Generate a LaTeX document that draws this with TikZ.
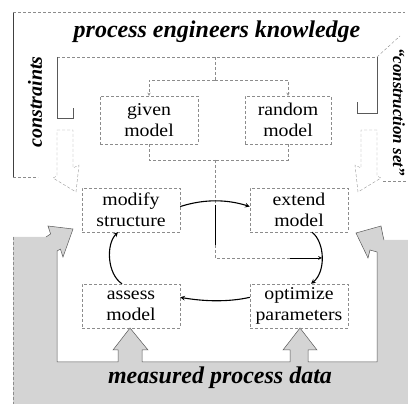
\documentclass[tikz,border=0pt]{standalone}
\usepackage{fontspec}
\setmainfont{Liberation Serif}
\newfontfamily\cajafont[FakeStretch=1.1]{Liberation Serif}

\begin{document}
\begin{tikzpicture}[x=1pt,y=-1pt,>=stealth,
    caja/.style={draw=black!45,densely dashed,line width=0.4pt,
      minimum width=98pt,minimum height=44pt,inner sep=0pt,align=center,
      font=\cajafont\fontsize{18}{21}\selectfont},
    titulo/.style={font=\fontsize{24}{28}\selectfont\bfseries\itshape},
    lateral/.style={font=\fontsize{20}{24}\selectfont\bfseries\itshape},
    tenue/.style={draw=black!45,densely dashed,line width=0.4pt},
    ciclo/.style={->,line width=1.1pt},
    hueco/.style={draw=black!40,densely dashed,line width=0.4pt,fill=white}]

    \useasboundingbox (0,0) rectangle (408,404);

    % Banda gris de datos medidos con sus flechas
    \fill[black!17] (13,237) -- (46,237) -- (50.6,233.9) -- (48,226) -- (73,229)
      -- (63,257) -- (60.4,249.1) -- (57,251) -- (57,362)
      -- (118,362) -- (118,350) -- (113,350) -- (130,328) -- (148,350) -- (142,350) -- (142,362)
      -- (290,362) -- (290,350) -- (283,350) -- (300,328) -- (317,350) -- (308,350) -- (308,362)
      -- (377,362) -- (377,252) -- (370,250) -- (368,258) -- (356,233) -- (381,226)
      -- (383,236) -- (384,240) -- (410,240) -- (410,406) -- (13,406) -- cycle;
    \draw[black!65,line width=0.5pt] (46,237) -- (50.6,233.9) -- (48,226) -- (73,229)
      -- (63,257) -- (60.4,249.1) -- (57,251) -- (57,362)
      -- (118,362) -- (118,350) -- (113,350) -- (130,328) -- (148,350) -- (142,350) -- (142,362)
      -- (290,362) -- (290,350) -- (283,350) -- (300,328) -- (317,350) -- (308,350) -- (308,362)
      -- (377,362) -- (377,252) -- (370,250) -- (368,258) -- (356,233) -- (381,226)
      -- (383,236) -- (384,240);
    \draw[tenue] (13,237) -- (13,404);

    % Marco exterior y bandas claras
    \draw[black!75,line width=0.5pt] (13,177) -- (13,12);
    \draw[tenue] (13,12) -- (405,12);
    \draw[tenue] (13,177) -- (38,177);
    \draw[tenue] (383,181) -- (408,181);
    \draw[tenue] (377,57) -- (400,36);
    \draw[tenue] (57,57) -- (377,57);
    \draw[black!65,line width=0.5pt] (57,57) -- (57,118) -- (73,118) -- (73,108);
    \draw[black!65,line width=0.5pt] (377,57) -- (377,113) -- (357,113) -- (357,102);

    % Flechas huecas de las bandas laterales
    \draw[hueco] (57,130) -- (73,130) -- (73,168) -- (79,165) -- (76,192) -- (53,178) -- (57,176) -- cycle;
    \draw[hueco] (377,130) -- (361,130) -- (361,168) -- (355,165) -- (358,192) -- (381,178) -- (377,176) -- cycle;

    % Textos de las bandas
    \node[titulo] (conocimiento) at (217,32) {process engineers knowledge};
    \node[titulo] (datos) at (220,378) {measured process data};
    \node[lateral,rotate=90] (restricciones) at (35,102) {constraints};
    \node[lateral,font=\fontsize{17}{20}\selectfont\bfseries\itshape,rotate=-90]
      (construccion) at (399,112) {``construction set''};

    % Cajas
    \node[caja,minimum height=48pt] (given) at (149,120) {given\\model};
    \node[caja,minimum height=48pt,minimum width=86pt] (random) at (288,120) {random\\model};
    \node[caja] (modify) at (131,210) {modify\\structure};
    \node[caja] (extend) at (299,210) {extend\\model};
    \node[caja] (assess) at (131,306) {assess\\model};
    \node[caja] (optimize) at (299,306) {optimize\\parameters};

    % Reparto hacia los modelos iniciales
    \coordinate (arriba) at (215,57);
    \coordinate (reparto) at (215,80);
    \draw[tenue] (arriba) -- (reparto);
    \draw[tenue,->] (reparto) -| (given.north);
    \draw[tenue,->] (reparto) -| (random.north);

    % Entrada del modelo al ciclo
    \coordinate (union) at (215,160);
    \coordinate (cruce1) at (215,205);
    \coordinate (cruce2) at (215,245);
    \coordinate (giro) at (215,258);
    \coordinate (tramo) at (290,258);
    \coordinate (llegada) at (322,258);
    \draw[tenue] (given.south) |- (union);
    \draw[tenue] (random.south) |- (union);
    \draw[tenue] (union) -- (cruce1);
    \draw[line width=0.7pt] (cruce1) -- (cruce2);
    \draw[tenue] (cruce2) -- (giro) -- (tramo);
    \draw[->,line width=0.7pt] (tramo) -- (llegada);

    % Ciclo de identificacion
    \draw[ciclo] (modify.4) .. controls +(25,-8) and +(-22,-7) .. (extend.176);
    \draw[ciclo] ([xshift=13pt]extend.south) .. controls +(13,10) and +(15,-12)
      .. ([xshift=12pt]optimize.north);
    \draw[ciclo] (optimize.170) .. controls +(-22,5) and +(23,4) .. (assess.10);
    \draw[ciclo] ([xshift=-9pt]assess.north) .. controls +(-15,-10) and +(-12,12)
      .. ([xshift=-13pt]modify.south);

\end{tikzpicture}
\end{document}
